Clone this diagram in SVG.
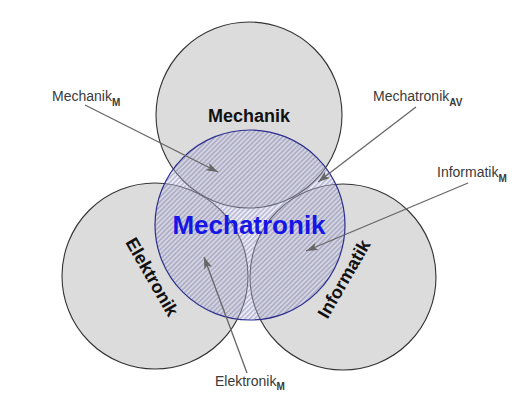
<svg xmlns="http://www.w3.org/2000/svg" width="521" height="394" viewBox="0 0 521 394">
  <style>
    .area { fill: #dcdcdc; stroke: #333; stroke-width: 1.1; }
    .core { fill: url(#hatch); stroke: #2e2e8f; stroke-width: 1.2; }
    .title { font-family: "Liberation Sans", Arial, sans-serif; font-weight: bold; font-size: 18px; fill: #111; text-anchor: middle; }
    .label { font-family: "Liberation Sans", Arial, sans-serif; font-size: 14px; fill: #3a3a3a; }
    .sub { font-weight: bold; font-size: 10px; }
    .arrow { stroke: #666; stroke-width: 1.3; fill: none; marker-end: url(#head); }
  </style>
  <defs>
    <pattern id="hatch" patternUnits="userSpaceOnUse" width="3.4" height="3.4" patternTransform="rotate(45)">
      <rect width="3.4" height="3.4" fill="#c4c4ee" fill-opacity="0.35"/>
      <line x1="0.8" y1="0" x2="0.8" y2="3.4" stroke="#707096" stroke-opacity="0.55" stroke-width="1.2"/>
    </pattern>
    <marker id="head" markerUnits="userSpaceOnUse" markerWidth="14" markerHeight="10" refX="12" refY="4" orient="auto">
      <path d="M0,0 L12,4 L0,8 L3,4 Z" fill="#666"/>
    </marker>
  </defs>

  <g id="mechanik">
    <circle class="area" cx="249" cy="115" r="93"/>
    <text class="title" x="249" y="122">Mechanik</text>
  </g>
  <g id="elektronik">
    <circle class="area" cx="155" cy="276" r="93"/>
    <text class="title" transform="translate(152,277) rotate(60)" x="0" y="6">Elektronik</text>
  </g>
  <g id="informatik">
    <circle class="area" cx="343" cy="277" r="93"/>
    <text class="title" transform="translate(344,279) rotate(-60)" x="0" y="6">Informatik</text>
  </g>
  <g id="mechatronik">
    <circle class="core" cx="250" cy="225" r="95"/>
    <text x="249" y="234" font-family="Liberation Sans, Arial, sans-serif" font-weight="bold" font-size="26" fill="#1515e6" text-anchor="middle">Mechatronik</text>
  </g>

  <g id="connectors">
    <line class="arrow" x1="85" y1="105" x2="218" y2="172"/>
    <line class="arrow" x1="416" y1="107" x2="318" y2="182"/>
    <line class="arrow" x1="468" y1="183" x2="306" y2="251"/>
    <line class="arrow" x1="247" y1="373" x2="204" y2="257"/>
  </g>

  <g id="label-mechanik-m">
    <text class="label" x="52" y="101">Mechanik<tspan class="sub" dy="5">M</tspan></text>
  </g>
  <g id="label-mechatronik-av">
    <text class="label" x="373" y="101">Mechatronik<tspan class="sub" dy="5">AV</tspan></text>
  </g>
  <g id="label-informatik-m">
    <text class="label" x="437" y="177">Informatik<tspan class="sub" dy="5">M</tspan></text>
  </g>
  <g id="label-elektronik-m">
    <text class="label" x="215" y="386">Elektronik<tspan class="sub" dy="4">M</tspan></text>
  </g>
</svg>
